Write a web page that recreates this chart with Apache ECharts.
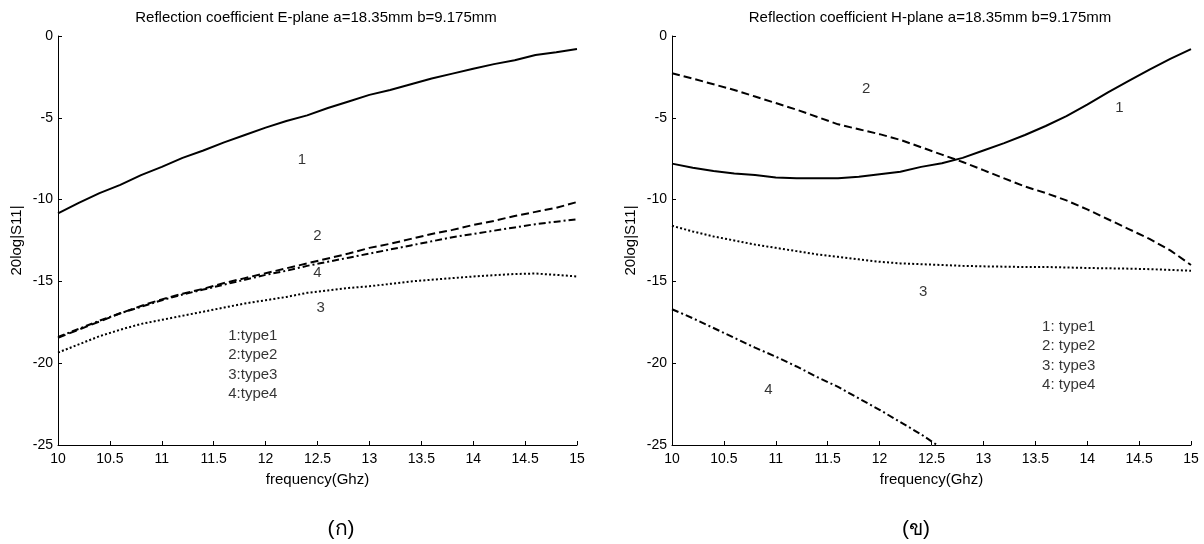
<!DOCTYPE html>
<html>
<head>
<meta charset="utf-8">
<style>
  html, body { margin: 0; padding: 0; background: #fff; }
  #chart { width: 1204px; height: 544px; }
</style>
<script src="https://cdn.jsdelivr.net/npm/echarts@6/dist/echarts.min.js"></script>
</head>
<body>
<div id="chart"></div>
<script>
// Frequency sweep (GHz)
const freq = [10, 10.2, 10.4, 10.6, 10.8, 11, 11.2, 11.4, 11.6, 11.8, 12, 12.2, 12.4,
              12.6, 12.8, 13, 13.2, 13.4, 13.6, 13.8, 14, 14.2, 14.4, 14.6, 14.8, 15];

// E-plane 20log|S11| (dB)
const eType1 = [-10.84, -10.2, -9.6, -9.1, -8.5, -8.0, -7.45, -7.0, -6.5, -6.05, -5.6, -5.2, -4.85,
                -4.4, -4.0, -3.6, -3.3, -2.95, -2.6, -2.3, -2.0, -1.72, -1.48, -1.16, -1.0, -0.8];
const eType2 = [-18.45, -17.95, -17.45, -16.95, -16.5, -16.1, -15.75, -15.45, -15.1, -14.8, -14.5, -14.2, -13.9,
                -13.6, -13.3, -12.95, -12.7, -12.4, -12.1, -11.85, -11.55, -11.3, -11.0, -10.75, -10.5, -10.15];
const eType3 = [-19.35, -18.85, -18.35, -17.95, -17.6, -17.35, -17.1, -16.85, -16.6, -16.35, -16.15, -15.95, -15.7,
                -15.55, -15.4, -15.3, -15.15, -15.0, -14.9, -14.8, -14.7, -14.62, -14.55, -14.52, -14.6, -14.7];
const eType4 = [-18.4, -17.9, -17.4, -16.95, -16.55, -16.15, -15.8, -15.5, -15.2, -14.9, -14.6, -14.35, -14.05,
                -13.8, -13.55, -13.3, -13.05, -12.8, -12.55, -12.3, -12.1, -11.9, -11.7, -11.5, -11.35, -11.2];

// H-plane 20log|S11| (dB)
const hType1 = [-7.8, -8.05, -8.25, -8.4, -8.5, -8.65, -8.7, -8.7, -8.7, -8.6, -8.45, -8.3, -8.0,
                -7.78, -7.45, -7.0, -6.55, -6.05, -5.5, -4.9, -4.2, -3.45, -2.75, -2.05, -1.4, -0.8];
const hType2 = [-2.28, -2.6, -2.95, -3.3, -3.7, -4.1, -4.5, -4.95, -5.4, -5.7, -6.0, -6.35, -6.8,
                -7.25, -7.7, -8.2, -8.7, -9.2, -9.6, -10.05, -10.6, -11.2, -11.8, -12.4, -13.1, -14.0];
const hType3 = [-11.6, -11.95, -12.25, -12.5, -12.75, -12.95, -13.15, -13.35, -13.5, -13.65, -13.8, -13.9, -13.95,
                -14.0, -14.05, -14.08, -14.1, -14.12, -14.12, -14.15, -14.18, -14.2, -14.22, -14.25, -14.3, -14.35];
const hType4 = [-16.7, -17.25, -17.85, -18.45, -19.05, -19.6, -20.2, -20.85, -21.45, -22.15, -22.85, -23.6, -24.35,
                -25.2];

// Axis ranges / ticks
const xTicks = { min: 10, max: 15, step: 0.5 };
const yTicks = { min: -25, max: 0, step: 5 };

// Text
const titles = ['Reflection coefficient E-plane a=18.35mm b=9.175mm',
                'Reflection coefficient H-plane a=18.35mm b=9.175mm'];
const captions = ['(ก)', '(ข)'];
const xName = 'frequency(Ghz)';
const yName = '20log|S11|';

// Curve tags placed in data coordinates [freq, dB, text]
const eTags = [[12.35, -7.58, '1'], [12.5, -12.2, '2'], [12.5, -14.5, '4'], [12.53, -16.6, '3']];
const hTags = [[11.87, -3.24, '2'], [14.31, -4.4, '1'], [12.42, -15.65, '3'], [10.93, -21.64, '4']];
// Key blocks [freq, dB, lines]
const eKey = [11.64, -20.1, ['1:type1', '2:type2', '3:type3', '4:type4']];
const hKey = [13.565, -19.56, ['1: type1', '2: type2', '3: type3', '4: type4']];

const FONT = "'Liberation Sans', Arial, sans-serif";
const TEXT_SIZE = 15;
const styles = [
  { type: 'solid', width: 2 },
  { type: [8, 4], width: 2 },
  { type: [2, 2.2], width: 2 },
  { type: [7, 3, 2, 3], width: 2 }
];

const pair = (ys) => ys.map((y, i) => [freq[i], y]);

function lineSeries(ys, k, idx) {
  return {
    type: 'line', xAxisIndex: idx, yAxisIndex: idx,
    data: pair(ys), showSymbol: false, symbol: 'none', smooth: false, clip: true,
    lineStyle: { color: '#000', width: styles[k].width, type: styles[k].type, cap: 'butt' },
    emphasis: { disabled: true }, silent: true, z: 3
  };
}

function tagSeries(tags, idx) {
  return {
    type: 'scatter', xAxisIndex: idx, yAxisIndex: idx, symbolSize: 0, silent: true,
    data: tags.map(t => ({ value: [t[0], t[1]], name: t[2] })),
    label: { show: true, position: 'inside', formatter: p => p.name,
             color: '#000', fontSize: TEXT_SIZE, fontFamily: FONT },
    z: 5
  };
}

function keySeries(key, idx) {
  return {
    type: 'scatter', xAxisIndex: idx, yAxisIndex: idx, symbolSize: 0, silent: true,
    data: [{ value: [key[0], key[1]], name: key[2].join('\n') }],
    label: { show: true, position: 'inside', align: 'left', verticalAlign: 'middle',
             formatter: p => p.name, color: '#000', fontSize: TEXT_SIZE, lineHeight: 19.3, fontFamily: FONT },
    z: 5
  };
}

function xAxis(idx) {
  return {
    type: 'value', gridIndex: idx, min: xTicks.min, max: xTicks.max, interval: xTicks.step,
    name: xName, nameLocation: 'middle', nameGap: 27,
    nameTextStyle: { color: '#000', fontSize: TEXT_SIZE, fontFamily: FONT },
    axisLine: { show: true, onZero: false, lineStyle: { color: '#000', width: 1 } },
    axisTick: { show: true, inside: true, length: 4, lineStyle: { color: '#000' } },
    axisLabel: { color: '#000', fontSize: 14, fontFamily: FONT, margin: 7, showMinLabel: true, showMaxLabel: true },
    splitLine: { show: false }
  };
}

function yAxis(idx) {
  return {
    type: 'value', gridIndex: idx, min: yTicks.min, max: yTicks.max, interval: yTicks.step,
    name: yName, nameLocation: 'middle', nameGap: 34,
    nameTextStyle: { color: '#000', fontSize: TEXT_SIZE, fontFamily: FONT },
    axisLine: { show: true, onZero: false, lineStyle: { color: '#000', width: 1 } },
    axisTick: { show: true, inside: true, length: 4, lineStyle: { color: '#000' } },
    axisLabel: { color: '#000', fontSize: 14, fontFamily: FONT, margin: 5, showMinLabel: true, showMaxLabel: true },
    splitLine: { show: false }
  };
}

const chart = echarts.init(document.getElementById('chart'), null, { renderer: 'canvas' });
chart.setOption({
  animation: false,
  backgroundColor: '#fff',
  grid: [
    { left: 58, top: 36, width: 519, height: 409, containLabel: false },
    { left: 672, top: 36, width: 519, height: 409, containLabel: false }
  ],
  xAxis: [xAxis(0), xAxis(1)],
  yAxis: [yAxis(0), yAxis(1)],
  series: [
    lineSeries(eType1, 0, 0), lineSeries(eType2, 1, 0), lineSeries(eType3, 2, 0), lineSeries(eType4, 3, 0),
    lineSeries(hType1, 0, 1), lineSeries(hType2, 1, 1), lineSeries(hType3, 2, 1), lineSeries(hType4, 3, 1),
    tagSeries(eTags, 0), tagSeries(hTags, 1), keySeries(eKey, 0), keySeries(hKey, 1)
  ],
  graphic: [
    { type: 'text', x: 316, y: 18, style: { text: titles[0], font: TEXT_SIZE + 'px ' + FONT, fill: '#000', align: 'center', verticalAlign: 'middle' } },
    { type: 'text', x: 930, y: 18, style: { text: titles[1], font: TEXT_SIZE + 'px ' + FONT, fill: '#000', align: 'center', verticalAlign: 'middle' } },
    { type: 'text', x: 341, y: 529, style: { text: captions[0], font: '21px ' + FONT, fill: '#000', align: 'center', verticalAlign: 'middle' } },
    { type: 'text', x: 916, y: 529, style: { text: captions[1], font: '21px ' + FONT, fill: '#000', align: 'center', verticalAlign: 'middle' } }
  ]
});
</script>
</body>
</html>
